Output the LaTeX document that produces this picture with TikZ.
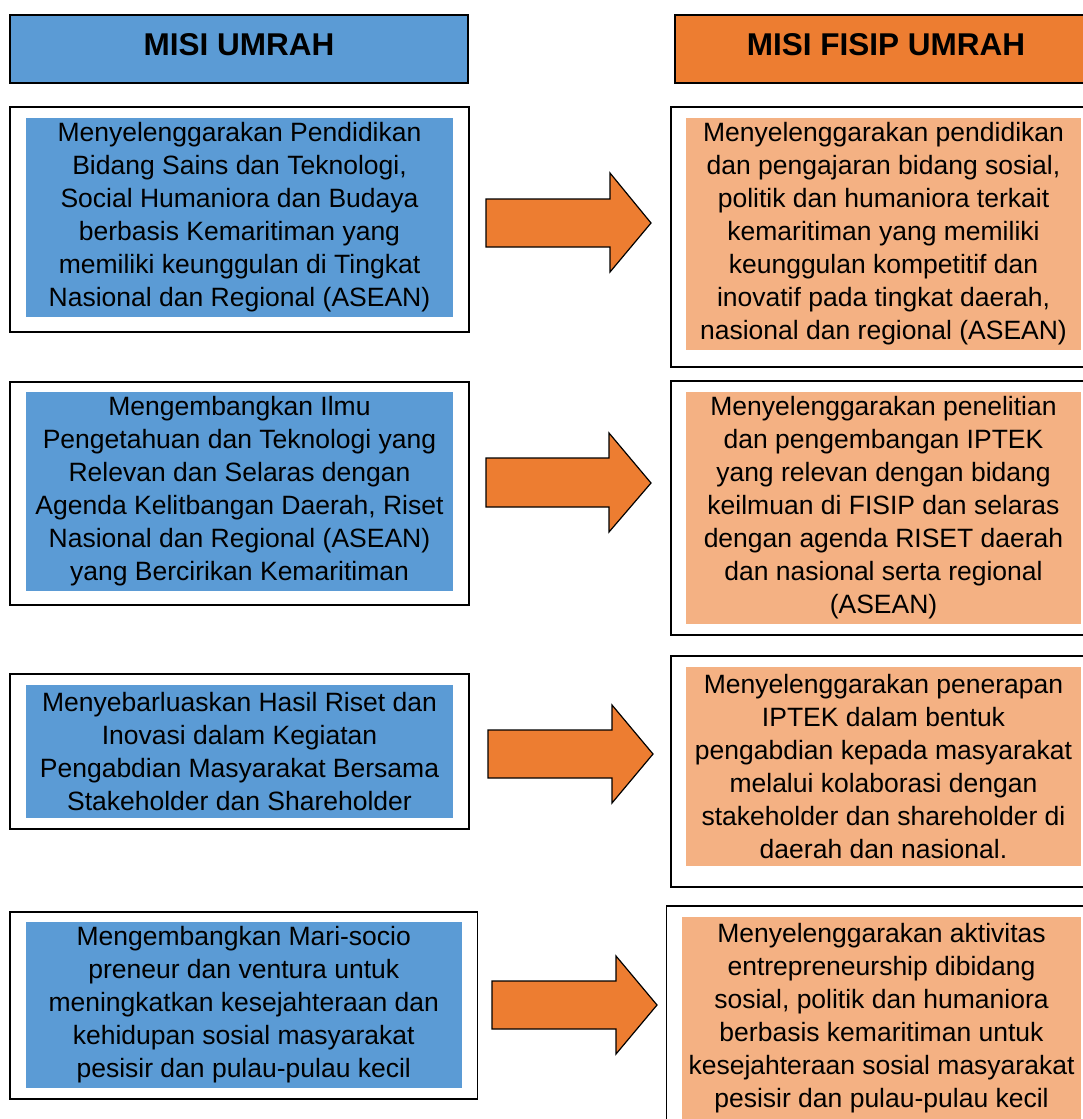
\documentclass[tikz,border=0pt]{standalone}
\usepackage{fontspec}
\setmainfont{Liberation Sans}
\definecolor{biru}{HTML}{5B9BD5}
\definecolor{oranye}{HTML}{ED7D31}
\definecolor{oranyemuda}{HTML}{F4B183}
\tikzset{
  judul/.style={draw=black,line width=1.6pt,inner sep=0pt,text height=40pt,text depth=28pt,
    font=\fontsize{31.5pt}{36pt}\selectfont\bfseries},
  kotak/.style={draw=black,fill=white,line width=1.6pt},
  isi/.style={align=center,inner sep=0pt,font=\fontsize{26.5pt}{33pt}\selectfont},
  panah/.style={draw=black,fill=oranye,line width=1.2pt,line join=miter}
}
\begin{document}
\begin{tikzpicture}[x=1pt,y=1pt]
\useasboundingbox (0,0) rectangle (1083,-1119);
\clip (0,0) rectangle (1083,-1119);
% judul
\node[judul,fill=biru,minimum width=458pt,minimum height=68pt] (judulkiri) at (239,-49) {MISI UMRAH};
\node[judul,fill=oranye,minimum width=422pt,minimum height=68pt] (judulkanan) at (886,-49) {MISI FISIP UMRAH};
% misi umrah
\node[kotak,minimum width=459pt,minimum height=225pt] (kiri1) at (239.5,-219.5) {};
\node[kotak,minimum width=459pt,minimum height=223pt] (kiri2) at (239.5,-493.5) {};
\node[kotak,minimum width=459pt,minimum height=155pt] (kiri3) at (239.5,-751.5) {};
\node[kotak,minimum width=467.5pt,minimum height=187pt] (kiri4) at (243.75,-1005.5) {};
\node[isi,fill=biru,minimum width=427pt,minimum height=199pt] (misi1) at (239.5,-217.5)
  {Menyelenggarakan Pendidikan\\Bidang Sains dan Teknologi,\\Social Humaniora dan Budaya\\berbasis Kemaritiman yang\\memiliki keunggulan di Tingkat\\Nasional dan Regional (ASEAN)};
\node[isi,fill=biru,minimum width=427pt,minimum height=199pt] (misi2) at (239.5,-491.5)
  {Mengembangkan Ilmu\\Pengetahuan dan Teknologi yang\\Relevan dan Selaras dengan\\Agenda Kelitbangan Daerah, Riset\\Nasional dan Regional (ASEAN)\\yang Bercirikan Kemaritiman};
\node[isi,fill=biru,minimum width=427pt,minimum height=133pt] (misi3) at (239.5,-751.5)
  {Menyebarluaskan Hasil Riset dan\\Inovasi dalam Kegiatan\\Pengabdian Masyarakat Bersama\\Stakeholder dan Shareholder};
\node[isi,fill=biru,minimum width=435.5pt,minimum height=166pt] (misi4) at (243.75,-1005)
  {Mengembangkan Mari-socio\\preneur dan ventura untuk\\meningkatkan kesejahteraan dan\\kehidupan sosial masyarakat\\pesisir dan pulau-pulau kecil};
% misi fisip
\node[kotak,minimum width=426pt,minimum height=260pt] (kanan1) at (884,-237) {};
\node[kotak,minimum width=426pt,minimum height=254pt] (kanan2) at (884,-508) {};
\node[kotak,minimum width=426pt,minimum height=231pt] (kanan3) at (884,-771.5) {};
\node[kotak,minimum width=434.5pt,minimum height=229pt] (kanan4) at (883.75,-1020.5) {};
\node[isi,fill=oranyemuda,minimum width=395pt,minimum height=232pt] (fisip1) at (883.5,-234)
  {Menyelenggarakan pendidikan\\dan pengajaran bidang sosial,\\politik dan humaniora terkait\\kemaritiman yang memiliki\\keunggulan kompetitif dan\\inovatif pada tingkat daerah,\\nasional dan regional (ASEAN)};
\node[isi,fill=oranyemuda,minimum width=395pt,minimum height=232pt] (fisip2) at (883.5,-508)
  {Menyelenggarakan penelitian\\dan pengembangan IPTEK\\yang relevan dengan bidang\\keilmuan di FISIP dan selaras\\dengan agenda RISET daerah\\dan nasional serta regional\\(ASEAN)};
\node[isi,fill=oranyemuda,minimum width=395pt,minimum height=199pt] (fisip3) at (883.5,-766.5)
  {Menyelenggarakan penerapan\\IPTEK dalam bentuk\\pengabdian kepada masyarakat\\melalui kolaborasi dengan\\stakeholder dan shareholder di\\daerah dan nasional.};
\node[isi,fill=oranyemuda,minimum width=399pt,minimum height=202pt] (fisip4) at (881.5,-1018)
  {Menyelenggarakan aktivitas\\entrepreneurship dibidang\\sosial, politik dan humaniora\\berbasis kemaritiman untuk\\kesejahteraan sosial masyarakat\\pesisir dan pulau-pulau kecil};
% panah
\draw[panah] (486,-199) -- (610,-199) -- (610,-173) -- (651,-223) -- (610,-272) -- (610,-247) -- (486,-247) -- cycle;
\draw[panah] (486,-458) -- (609,-458) -- (609,-433) -- (651,-483) -- (609,-532) -- (609,-507) -- (486,-507) -- cycle;
\draw[panah] (488,-730) -- (612,-730) -- (612,-705) -- (653,-754) -- (612,-803) -- (612,-778) -- (488,-778) -- cycle;
\draw[panah] (492,-981) -- (616,-981) -- (616,-956) -- (657,-1005) -- (616,-1054) -- (616,-1029) -- (492,-1029) -- cycle;
\end{tikzpicture}
\end{document}
